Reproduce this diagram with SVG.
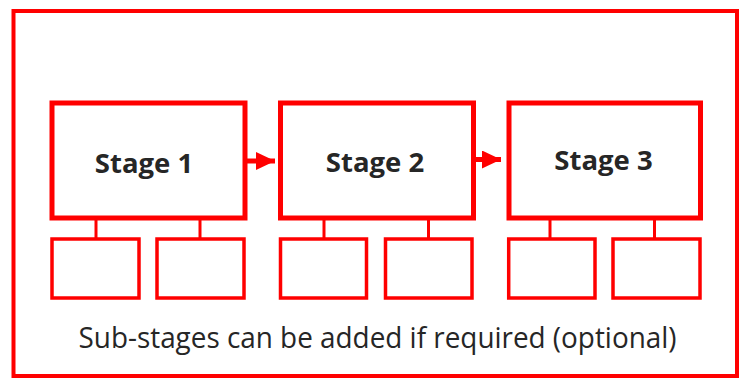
<svg xmlns="http://www.w3.org/2000/svg" width="746" height="379" viewBox="0 0 746 379">
<style>
.frame{fill:#fff;stroke:#ff0000;stroke-width:4}
.stage{fill:#fff;stroke:#ff0000;stroke-width:5}
.sub{fill:#fff;stroke:#ff0000;stroke-width:3.5}
.link{stroke:#ff0000;stroke-width:3;fill:none}
.arrow{stroke:#ff0000;stroke-width:5;fill:none}
.lbl{font-family:"Open Sans","Noto Sans",sans-serif;font-weight:bold;font-size:27.5px;fill:#262626;text-anchor:middle}
.note{font-family:"Open Sans","Noto Sans",sans-serif;font-size:28.5px;fill:#262626;text-anchor:middle}
</style>
<defs>
<marker id="ah" markerUnits="userSpaceOnUse" markerWidth="20" markerHeight="20" refX="19" refY="9" orient="auto">
<path d="M0,0 L19,9 L0,18 Z" fill="#ff0000"/>
</marker>
</defs>
<rect width="746" height="379" fill="#fff"/>
<rect id="frame" class="frame" x="13.5" y="11" width="723.5" height="365"/>
<g id="stage1">
<rect class="stage" x="52" y="103" width="193" height="115"/>
<text class="lbl" x="144" y="172.5">Stage 1</text>
</g>
<g id="stage2">
<rect class="stage" x="280.5" y="103" width="193" height="115"/>
<text class="lbl" x="375" y="171.5">Stage 2</text>
</g>
<g id="stage3">
<rect class="stage" x="509" y="103" width="191.5" height="115"/>
<text class="lbl" x="603.5" y="170">Stage 3</text>
</g>
<g id="sub1a"><rect class="sub" x="52" y="239" width="87" height="59"/></g>
<g id="sub1b"><rect class="sub" x="157" y="239" width="87" height="59"/></g>
<g id="sub2a"><rect class="sub" x="280.5" y="239" width="86" height="59"/></g>
<g id="sub2b"><rect class="sub" x="385.5" y="239" width="86.5" height="59"/></g>
<g id="sub3a"><rect class="sub" x="508.7" y="239" width="86.3" height="59"/></g>
<g id="sub3b"><rect class="sub" x="613" y="239" width="87" height="59"/></g>
<g id="connectors">
<line class="arrow" x1="247" y1="161" x2="275" y2="161" marker-end="url(#ah)"/>
<line class="arrow" x1="476" y1="159.5" x2="501" y2="159.5" marker-end="url(#ah)"/>
<line class="link" x1="96" y1="220" x2="96" y2="239"/>
<line class="link" x1="200" y1="220" x2="200" y2="239"/>
<line class="link" x1="324" y1="220" x2="324" y2="239"/>
<line class="link" x1="428.5" y1="220" x2="428.5" y2="239"/>
<line class="link" x1="550" y1="220" x2="550" y2="239"/>
<line class="link" x1="654.5" y1="220" x2="654.5" y2="239"/>
</g>
<text id="note" class="note" x="377.5" y="348" textLength="598" lengthAdjust="spacingAndGlyphs">Sub-stages can be added if required (optional)</text>
</svg>
